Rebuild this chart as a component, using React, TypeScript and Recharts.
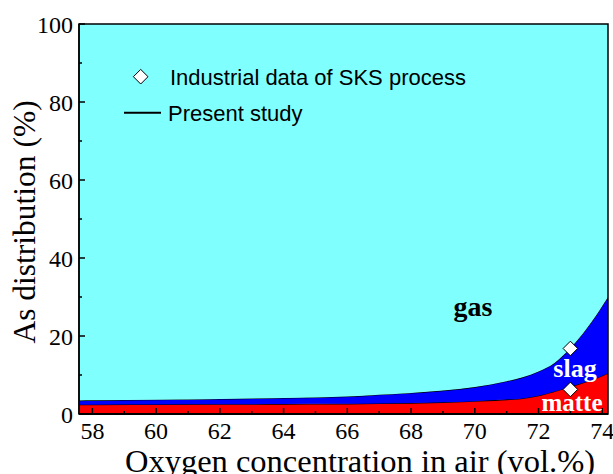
import React from 'react';
import { ComposedChart, Area, Scatter, XAxis, YAxis, ReferenceArea } from 'recharts';

// oxygen concentration in air (vol.%)
const oxygen = [57.58, 58, 60, 62, 64, 66, 67, 68, 69, 70, 71, 71.5, 72, 72.5, 73, 73.5, 73.8, 74, 74.18];
// As distribution (%) per phase, stacked: matte + slag + gas = 100
const matte = [2.4, 2.4, 2.45, 2.5, 2.55, 2.6, 2.7, 2.8, 3.0, 3.3, 3.7, 4.0, 4.7, 5.8, 7.0, 8.3, 9.1, 9.8, 10.5];
const slag = [1.05, 1.1, 1.2, 1.35, 1.55, 1.9, 2.25, 2.6, 3.0, 3.6, 4.7, 5.4, 6.2, 7.3, 9.9, 13.5, 16.1, 17.9, 19.5];
const gas = [96.55, 96.5, 96.35, 96.15, 95.9, 95.5, 95.05, 94.6, 94.0, 93.1, 91.6, 90.6, 89.1, 86.9, 83.1, 78.2, 74.8, 72.3, 70.0];

// industrial data of SKS process (cumulative values)
const industrialOxygen = [73, 73];
const industrialValue = [16.8, 6.3];

const xTicks = [58, 59, 60, 61, 62, 63, 64, 65, 66, 67, 68, 69, 70, 71, 72, 73, 74];
const xLabels = [58, 60, 62, 64, 66, 68, 70, 72, 74];
const yTicks = [0, 10, 20, 30, 40, 50, 60, 70, 80, 90, 100];
const yLabels = [0, 20, 40, 60, 80, 100];

const table = oxygen.map((x, i) => ({ x, matte: matte[i], slag: slag[i], gas: gas[i] }));
const points = industrialOxygen.map((x, i) => ({ x, y: industrialValue[i] }));

const serif = '"Liberation Serif", "Times New Roman", serif';
const sans = '"Liberation Sans", Arial, sans-serif';

const XTick = (props: any) => {
  const { x, y, payload } = props;
  const major = xLabels.includes(payload.value);
  return (
    <g>
      <line x1={x} x2={x} y1={y} y2={y - (major ? 6 : 3)} stroke="#000" strokeWidth={1.5} />
      {major && (
        <text x={x} y={y + 17} textAnchor="middle" dominantBaseline="central" fontSize={24} fontFamily={serif} fill="#000">
          {payload.value}
        </text>
      )}
    </g>
  );
};

const YTick = (props: any) => {
  const { x, y, payload } = props;
  const major = yLabels.includes(payload.value);
  return (
    <g>
      <line x1={x} x2={x + (major ? 6 : 3)} y1={y} y2={y} stroke="#000" strokeWidth={1.5} />
      {major && (
        <text x={x - 6} y={y + 1} textAnchor="end" dominantBaseline="central" fontSize={24} fontFamily={serif} fill="#000">
          {payload.value}
        </text>
      )}
    </g>
  );
};

const Diamond = (props: any) => {
  const { cx, cy } = props;
  const r = 7.3;
  return (
    <polygon
      points={`${cx},${cy - r} ${cx + r},${cy} ${cx},${cy + r} ${cx - r},${cy}`}
      fill="#fff"
      stroke="#000"
      strokeWidth={1}
    />
  );
};

export default function App() {
  return (
    <div style={{ position: 'absolute', left: 0, top: 0, width: 613, height: 474, background: '#fff' }}>
      <ComposedChart width={613} height={474} data={table} margin={{ top: 24, right: 5, bottom: 0, left: 0 }}>
        <XAxis
          dataKey="x"
          type="number"
          domain={[57.58, 74.18]}
          allowDataOverflow
          ticks={xTicks}
          interval={0}
          tickSize={0}
          tickMargin={0}
          tick={<XTick />}
          height={60}
          axisLine={{ stroke: '#000', strokeWidth: 2 }}
        />
        <YAxis
          type="number"
          domain={[0, 100]}
          ticks={yTicks}
          interval={0}
          tickSize={0}
          tickMargin={0}
          tick={<YTick />}
          width={79}
          axisLine={{ stroke: '#000', strokeWidth: 1.5 }}
        />
        <Area type="monotone" dataKey="matte" stackId="1" fill="#ff0000" fillOpacity={1} stroke="#000" strokeWidth={1.2} isAnimationActive={false} />
        <Area type="monotone" dataKey="slag" stackId="1" fill="#0000ff" fillOpacity={1} stroke="#000" strokeWidth={1.2} isAnimationActive={false} />
        <Area type="monotone" dataKey="gas" stackId="1" fill="#80ffff" fillOpacity={1} stroke="none" isAnimationActive={false} />
        <ReferenceArea x1={57.58} x2={74.18} y1={0} y2={100} fill="none" stroke="#000" strokeWidth={1.5} />
        <Scatter data={points} dataKey="y" shape={<Diamond />} isAnimationActive={false} />
      </ComposedChart>
      <svg width={613} height={474} style={{ position: 'absolute', left: 0, top: 0, pointerEvents: 'none' }}>
        <polygon points="140.7,69.4 148,76.7 140.7,84 133.4,76.7" fill="#fff" stroke="#000" strokeWidth={1} />
        <text x={170} y={77} dominantBaseline="central" fontSize={22} fontFamily={sans} fill="#000">
          Industrial data of SKS process
        </text>
        <line x1={124} x2={161} y1={112.7} y2={112.7} stroke="#000" strokeWidth={2} />
        <text x={168} y={113} dominantBaseline="central" fontSize={22} fontFamily={sans} fill="#000">
          Present study
        </text>
        <text x={473} y={316} textAnchor="middle" fontSize={28} fontWeight="bold" fontFamily={serif} fill="#000">
          gas
        </text>
        <text x={575} y={377} textAnchor="middle" fontSize={26} fontWeight="bold" fontFamily={serif} fill="#fff">
          slag
        </text>
        <text x={572} y={410.5} textAnchor="middle" fontSize={25} fontWeight="bold" fontFamily={serif} fill="#fff">
          matte
        </text>
        <text x={360} y={472} textAnchor="middle" fontSize={32.5} fontFamily={serif} fill="#000">
          Oxygen concentration in air (vol.%)
        </text>
        <text transform="translate(35,222) rotate(-90)" textAnchor="middle" fontSize={31.5} fontFamily={serif} fill="#000">
          As distribution (%)
        </text>
      </svg>
    </div>
  );
}
